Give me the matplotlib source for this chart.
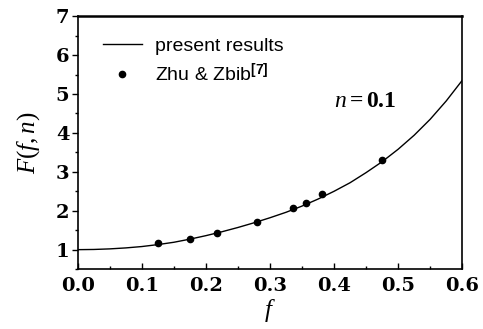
import matplotlib
matplotlib.use("Agg")
import matplotlib.pyplot as plt
import numpy as np
from matplotlib.ticker import MultipleLocator

# present results (curve)
f_curve = [0.0, 0.025, 0.05, 0.075, 0.1, 0.125, 0.15, 0.175, 0.2, 0.225, 0.25,
           0.275, 0.3, 0.325, 0.35, 0.375, 0.4, 0.425, 0.45, 0.475, 0.5,
           0.525, 0.55, 0.575, 0.6]
F_curve = [1.0, 1.005, 1.02, 1.045, 1.08, 1.13, 1.19, 1.27, 1.36, 1.46, 1.57,
           1.69, 1.82, 1.96, 2.12, 2.3, 2.5, 2.72, 2.98, 3.26, 3.58,
           3.94, 4.35, 4.82, 5.35]

# Zhu & Zbib points
f_pts = [0.125, 0.175, 0.217, 0.28, 0.336, 0.356, 0.381, 0.475]
F_pts = [1.18, 1.28, 1.44, 1.72, 2.06, 2.21, 2.42, 3.3]

x_ticks = [0.0, 0.1, 0.2, 0.3, 0.4, 0.5, 0.6]
y_ticks = [1, 2, 3, 4, 5, 6, 7]

plt.rcParams['mathtext.fontset'] = 'custom'
plt.rcParams['mathtext.rm'] = 'Liberation Serif'
plt.rcParams['mathtext.it'] = 'Liberation Serif:italic'
plt.rcParams['mathtext.bf'] = 'Liberation Serif:bold'
plt.rcParams['mathtext.sf'] = 'Liberation Sans:bold'

fig = plt.figure(figsize=(4.83, 3.29), dpi=100)
ax = fig.add_axes([0.161, 0.182, 0.796, 0.769])

ax.plot(f_curve, F_curve, color='black', lw=1.0, label='present results')
ax.plot(f_pts, F_pts, 'o', color='black', ms=4.5, label=r'Zhu & Zbib$^{\mathsf{[7]}}$')

ax.set_xlim(0, 0.6)
ax.set_ylim(0.5, 7)
ax.set_xticks(x_ticks)
ax.set_xticklabels([f"{v:.1f}" for v in x_ticks])
ax.set_yticks(y_ticks)
ax.set_yticklabels([str(v) for v in y_ticks])
ax.xaxis.set_minor_locator(MultipleLocator(0.05))
ax.yaxis.set_minor_locator(MultipleLocator(0.5))
ax.tick_params(axis='x', which='both', direction='in')
ax.tick_params(axis='y', which='both', direction='out')
ax.tick_params(which='major', length=4, width=1)
ax.tick_params(which='minor', length=2.5, width=1)
for lab in ax.get_xticklabels() + ax.get_yticklabels():
    lab.set_fontfamily('DejaVu Serif')
    lab.set_fontweight('bold')
    lab.set_fontsize(14)
ax.tick_params(axis='x', pad=6)
ax.tick_params(axis='y', pad=2)

for s in ax.spines.values():
    s.set_linewidth(1.2)
ax.spines['top'].set_linewidth(1.8)

ax.set_xlabel(r'$f$', fontsize=18, labelpad=1)
ax.set_ylabel(r'$F(f,n)$', fontsize=18, labelpad=10)

ax.text(0.4, 4.85, r'$n\mathbf{=0.1}$', fontsize=17, ha='left', va='center')

ax.legend(loc='upper left', bbox_to_anchor=(0.02, 0.985), frameon=False,
          prop={'family': 'Liberation Sans', 'size': 14},
          handlelength=2.0, handletextpad=0.7, labelspacing=0.35)

fig.savefig('out.png', dpi=100)
